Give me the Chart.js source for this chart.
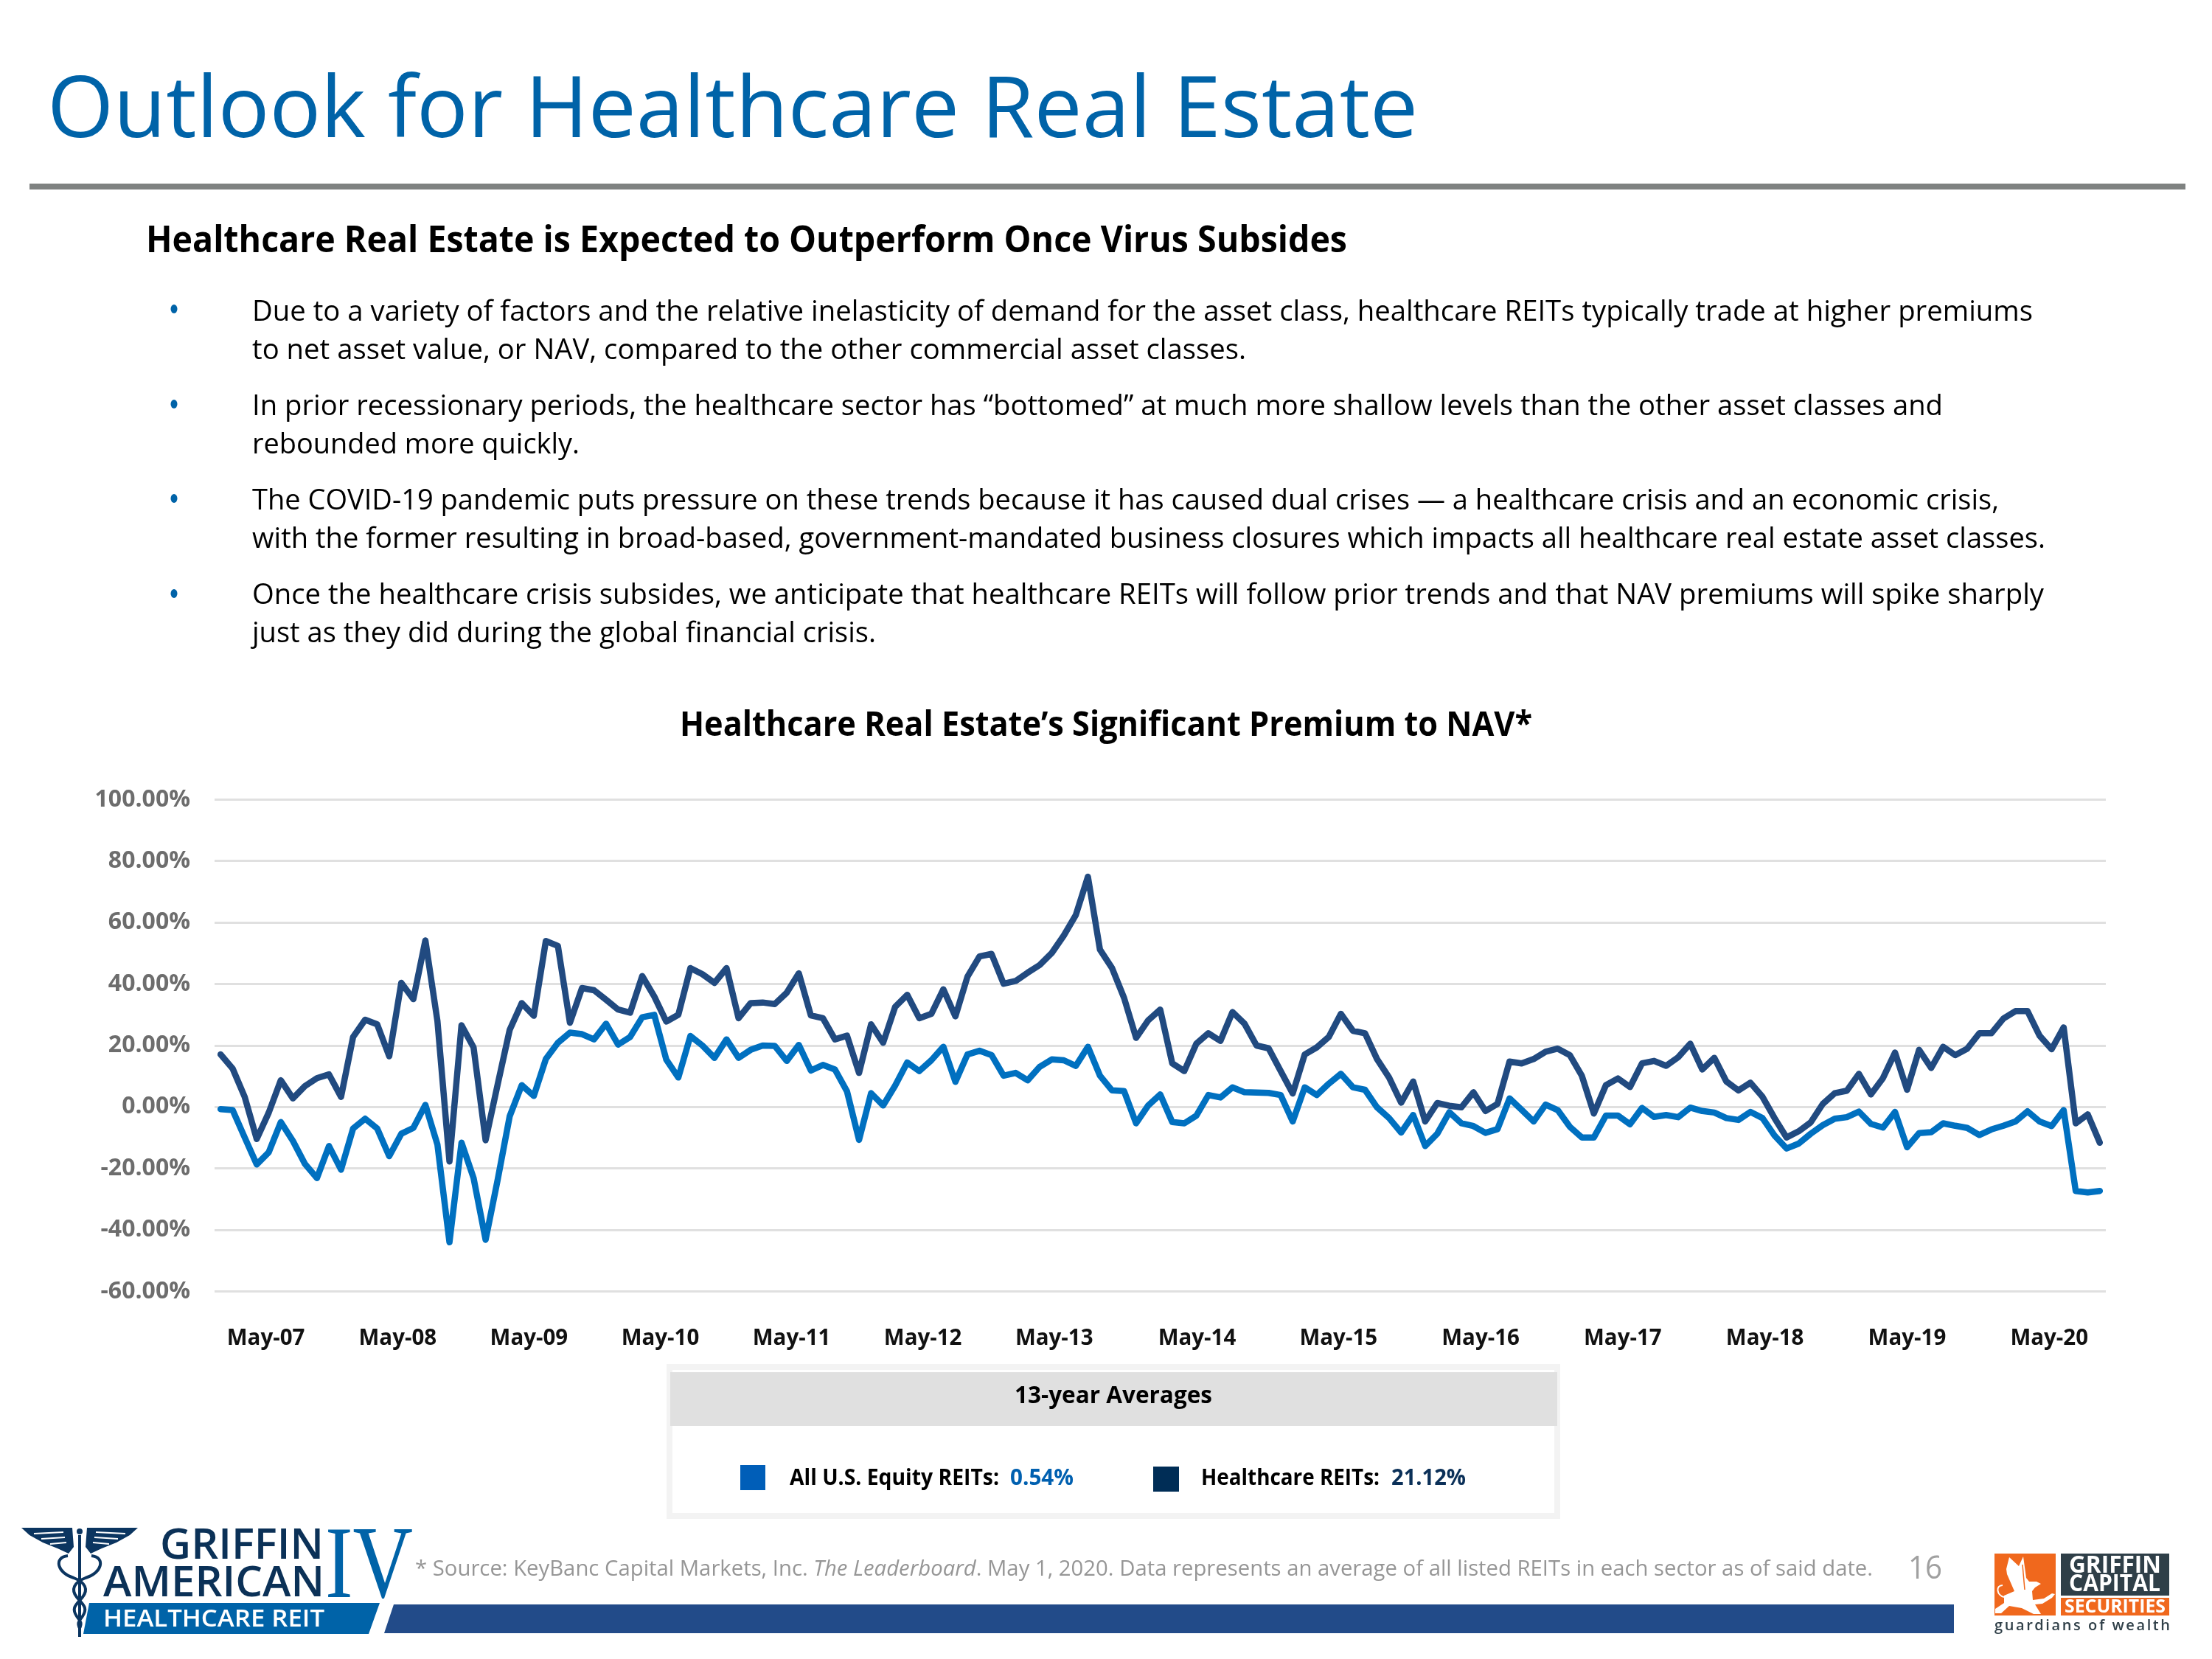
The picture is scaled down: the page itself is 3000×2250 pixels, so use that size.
<!DOCTYPE html>
<html>
<head>
<meta charset="utf-8">
<title>Outlook for Healthcare Real Estate</title>
<script src="https://cdn.jsdelivr.net/npm/chart.js@4"></script>
<style>
    html, body { margin: 0; padding: 0; background: #fff; }
    #page { position: relative; width: 3000px; height: 2250px; overflow: hidden; background: #fff; }
    #premiumChart { position: absolute; left: 0; top: 1040px; }
    #overlay { position: absolute; left: 0; top: 0; pointer-events: none; font-family: "Open Sans", sans-serif; }
</style>
</head>
<body>
<div id="page">
    <canvas id="premiumChart" width="3000" height="800"></canvas>
    <svg id="overlay" width="3000" height="2250" xmlns="http://www.w3.org/2000/svg">
        <!-- header -->
        <text x="64" y="186" font-size="116" fill="#0063a8" textLength="1859" lengthAdjust="spacingAndGlyphs">Outlook for Healthcare Real Estate</text>
        <rect x="40" y="249" width="2924" height="8" fill="#7f8281"/>
        <text x="198" y="342" font-size="50" font-weight="700" fill="#000" textLength="1629" lengthAdjust="spacingAndGlyphs">Healthcare Real Estate is Expected to Outperform Once Virus Subsides</text>

        <!-- bullets -->
        <g fill="#0063a8">
            <ellipse cx="236" cy="419" rx="4.5" ry="6"/>
            <ellipse cx="236" cy="548" rx="4.5" ry="6"/>
            <ellipse cx="236" cy="676" rx="4.5" ry="6"/>
            <ellipse cx="236" cy="805" rx="4.5" ry="6"/>
        </g>
        <g font-size="38" fill="#000">
            <text x="342" y="435" textLength="2415" lengthAdjust="spacingAndGlyphs">Due to a variety of factors and the relative inelasticity of demand for the asset class, healthcare REITs typically trade at higher premiums</text>
            <text x="342" y="487" textLength="1348" lengthAdjust="spacingAndGlyphs">to net asset value, or NAV, compared to the other commercial asset classes.</text>
            <text x="342" y="563" textLength="2293" lengthAdjust="spacingAndGlyphs">In prior recessionary periods, the healthcare sector has “bottomed” at much more shallow levels than the other asset classes and</text>
            <text x="342" y="615" textLength="444" lengthAdjust="spacingAndGlyphs">rebounded more quickly.</text>
            <text x="342" y="691" textLength="2369" lengthAdjust="spacingAndGlyphs">The COVID-19 pandemic puts pressure on these trends because it has caused dual crises — a healthcare crisis and an economic crisis,</text>
            <text x="342" y="743" textLength="2432" lengthAdjust="spacingAndGlyphs">with the former resulting in broad-based, government-mandated business closures which impacts all healthcare real estate asset classes.</text>
            <text x="342" y="819" textLength="2430" lengthAdjust="spacingAndGlyphs">Once the healthcare crisis subsides, we anticipate that healthcare REITs will follow prior trends and that NAV premiums will spike sharply</text>
            <text x="342" y="871" textLength="846" lengthAdjust="spacingAndGlyphs">just as they did during the global financial crisis.</text>
        </g>

        <!-- chart title -->
        <text x="922" y="998" font-size="46" font-weight="700" fill="#000" textLength="1156" lengthAdjust="spacingAndGlyphs">Healthcare Real Estate’s Significant Premium to NAV*</text>

        <!-- averages box -->
        <rect x="908" y="1854" width="1204" height="202" fill="#fff" stroke="#f3f3f3" stroke-width="8"/>
        <rect x="909" y="1861" width="1203" height="73" fill="#e0e0e0"/>
        <text x="1376" y="1903" font-size="33" font-weight="700" fill="#000" textLength="268" lengthAdjust="spacingAndGlyphs">13-year Averages</text>
        <rect x="1004" y="1987" width="34" height="34" fill="#005eb8"/>
        <text x="1071" y="2014" font-size="30" font-weight="700" fill="#000" textLength="284" lengthAdjust="spacingAndGlyphs">All U.S. Equity REITs:</text>
        <text x="1370" y="2014" font-size="30" font-weight="700" fill="#0060b0" textLength="86" lengthAdjust="spacingAndGlyphs">0.54%</text>
        <rect x="1564" y="1989" width="35" height="34" fill="#002d56"/>
        <text x="1629" y="2014" font-size="30" font-weight="700" fill="#000" textLength="242" lengthAdjust="spacingAndGlyphs">Healthcare REITs:</text>
        <text x="1887" y="2014" font-size="30" font-weight="700" fill="#0b3058" textLength="101" lengthAdjust="spacingAndGlyphs">21.12%</text>

        <!-- footer -->
        <text x="563" y="2137" font-size="29" fill="#969696" textLength="1977" lengthAdjust="spacingAndGlyphs">* Source: KeyBanc Capital Markets, Inc. <tspan font-style="italic">The Leaderboard</tspan>. May 1, 2020. Data represents an average of all listed REITs in each sector as of said date.</text>
        <text x="2588" y="2141" font-size="44" fill="#a0a0a0" textLength="46" lengthAdjust="spacingAndGlyphs">16</text>
        <polygon points="534,2176 2650,2176 2650,2215 521,2215" fill="#224b89"/>

        <!-- Griffin American logo -->
        <g fill="#0b3560">
            <polygon points="29,2072 98,2072 100,2098 93,2107 78,2100 58,2092 40,2082"/>
            <polygon points="187,2072 118,2072 116,2098 123,2107 138,2100 158,2092 176,2082"/>
            <rect x="106" y="2082" width="4" height="138"/>
            <circle cx="108" cy="2077" r="4"/>
        </g>
        <g stroke="#fff" stroke-width="2" fill="none">
            <path d="M46,2080 L86,2078 M56,2087 L88,2085 M68,2094 L90,2092"/>
            <path d="M170,2080 L130,2078 M160,2087 L128,2085 M148,2094 L126,2092"/>
        </g>
        <g stroke="#0b3560" stroke-width="4" fill="none">
            <path d="M92,2110 C72,2112 78,2134 100,2140 C116,2146 120,2156 112,2166 C104,2176 96,2180 104,2192 C108,2198 112,2200 108,2208"/>
            <path d="M124,2110 C144,2112 138,2134 116,2140 C100,2146 96,2156 104,2166 C112,2176 120,2180 112,2192 C108,2198 104,2200 108,2208"/>
        </g>
        <text x="217" y="2114" font-size="57" font-weight="600" fill="#0b3157" textLength="222" lengthAdjust="spacingAndGlyphs">GRIFFIN</text>
        <text x="140" y="2165" font-size="57" font-weight="600" fill="#0b3157" textLength="300" lengthAdjust="spacingAndGlyphs">AMERICAN</text>
        <text x="441" y="2166" font-family="Liberation Serif" font-size="140" fill="#0063a8" textLength="119" lengthAdjust="spacingAndGlyphs">IV</text>
        <polygon points="121,2174 515,2174 500,2216 113,2216" fill="#0063a8"/>
        <text x="140" y="2206" font-size="32" font-weight="600" fill="#fff" textLength="300" lengthAdjust="spacingAndGlyphs">HEALTHCARE  REIT</text>

        <!-- Griffin Capital Securities logo -->
        <rect x="2705" y="2107" width="83" height="84" fill="#f0681d"/>
        <polygon fill="#fff" points="2725,2112 2738,2124 2744,2111 2748,2140 2752,2145 2762,2145 2768,2148 2760,2153 2756,2158 2757,2170 2772,2168 2783,2161 2787,2162 2783,2167 2770,2175 2760,2176 2768,2189 2758,2189 2742,2181 2725,2178 2714,2188 2706,2188 2706,2182 2718,2174 2718,2164 2732,2158 2722,2135 2721,2128"/>
        <path d="M2743,2122 L2746,2156" stroke="#f0681d" stroke-width="1.5" fill="none"/>
        <path d="M2718,2166 C2708,2164 2706,2150 2716,2150" stroke="#fff" stroke-width="2" fill="none"/>
        <rect x="2795" y="2107" width="147" height="57" fill="#2f3f48"/>
        <rect x="2795" y="2167" width="147" height="24" fill="#f0681d"/>
        <text x="2806" y="2133" font-size="32" font-weight="700" fill="#fff" textLength="125" lengthAdjust="spacingAndGlyphs">GRIFFIN</text>
        <text x="2806" y="2158" font-size="32" font-weight="700" fill="#fff" textLength="124" lengthAdjust="spacingAndGlyphs">CAPITAL</text>
        <text x="2800" y="2187" font-size="25" font-weight="700" fill="#fff" textLength="137" lengthAdjust="spacingAndGlyphs">SECURITIES</text>
        <text x="2705" y="2211" font-size="20" font-weight="600" fill="#2f3f48" textLength="238" lengthAdjust="spacing">guardians of wealth</text>
    </svg>
</div>
<script>
// Premium to NAV in %, monthly May-07 to May-20
var healthcareReits = [
    17.1, 12.5, 3.3, -10.4, -1.8, 8.7, 2.8, 6.8, 9.4, 10.6, 3.3, 22.8, 28.4,
    26.9, 16.5, 40.4, 35.1, 54.2, 28, -17.7, 26.6, 19.4, -10.8, 7.3, 25.1,
    33.8, 29.7, 54, 52.4, 27.4, 38.7, 38, 34.9, 31.7, 30.7, 42.6, 36, 27.8,
    30, 45.2, 43.2, 40.4, 45.2, 28.9, 33.8, 34, 33.5, 37.2, 43.5, 29.8, 28.9,
    22, 23.2, 11.1, 26.9, 20.9, 32.6, 36.5, 28.9, 30.3, 38.3, 29.5, 42.4, 49,
    49.8, 40.1, 41, 43.7, 46.2, 50.1, 55.8, 62.5, 74.9, 51.2, 45.2, 35.5,
    22.5, 28.2, 31.7, 14.2, 11.7, 20.6, 24, 21.5, 30.9, 27.1, 20, 19.1, 11.7,
    4.4, 17.1, 19.4, 22.8, 30.3, 24.8, 24, 15.6, 9.6, 1.4, 8.3, -4.7, 1.3,
    0.4, -0.1, 4.8, -1.3, 1, 14.8, 14.2, 15.6, 18, 19, 16.9, 10.2, -2.1, 7.1,
    9.3, 6.5, 14.2, 15, 13.4, 16.2, 20.6, 12.2, 16, 8.3, 5.4, 7.9, 3.3, -3.6,
    -9.9, -7.9, -5, 1, 4.5, 5.3, 10.8, 4.1, 9.4, 17.7, 5.6, 18.6, 12.7, 19.6,
    16.9, 19, 24, 24, 28.8, 31.2, 31.2, 23.2, 18.8, 25.9, -5.3, -2.4, -11.6
];
var allEquityReits = [
    -0.7, -1, -9.9, -18.7, -14.7, -4.9, -11, -18.5, -23.1, -12.7, -20.4, -7,
    -3.8, -7, -16, -8.7, -6.8, 0.7, -12.2, -44, -11.6, -23.1, -43.2, -23.7,
    -3, 7.1, 3.6, 15.6, 20.9, 24.2, 23.7, 22, 27.1, 20.3, 22.8, 29.2, 30,
    15.4, 9.6, 23.1, 20, 16, 22, 16, 18.6, 20, 19.9, 15, 20.2, 11.9, 13.7,
    12.2, 5.1, -10.7, 4.5, 0.5, 7, 14.5, 11.7, 15.2, 19.6, 8.2, 17.1, 18.3,
    16.9, 10.2, 11.1, 8.7, 13.1, 15.5, 15.2, 13.4, 19.6, 10.2, 5.4, 5.2,
    -5.3, 0.5, 4.1, -4.9, -5.3, -2.8, 3.9, 3.1, 6.4, 4.8, 4.7, 4.6, 3.9,
    -4.7, 6.4, 3.9, 7.6, 10.8, 6.4, 5.6, -0.1, -3.6, -8.3, -2.6, -12.7, -8.7,
    -1.7, -5.3, -6.2, -8.4, -7.2, 2.8, -0.9, -4.7, 0.8, -1, -6.4, -9.9, -9.9,
    -2.8, -2.8, -5.6, -0.3, -3.2, -2.6, -3.3, -0.2, -1.3, -1.8, -3.6, -4.2,
    -1.6, -3.6, -9.3, -13.5, -11.9, -8.7, -5.9, -3.8, -3.3, -1.5, -5.5, -6.7,
    -1.6, -13.1, -8.5, -8.2, -5.3, -6.1, -6.8, -9.1, -7.3, -6.1, -4.7, -1.4,
    -4.7, -6.2, -1, -27.3, -27.8, -27.3
];

var xTickLabels = ['May-07', 'May-08', 'May-09', 'May-10', 'May-11', 'May-12', 'May-13', 'May-14', 'May-15', 'May-16', 'May-17', 'May-18', 'May-19', 'May-20'];
// where the labels sit along the months, the reference spaces them unevenly
var xTickMonths = [3.76, 14.7, 25.6, 36.5, 47.4, 58.3, 69.2, 81.06, 92.8, 104.6, 116.4, 128.2, 140, 151.8];

function toPoints(values) {
    return values.map(function (v, i) { return { x: i, y: v }; });
}

var premiumCtx = document.getElementById('premiumChart').getContext('2d');

var premiumChart = new Chart(premiumCtx, {
    type: 'line',
    data: {
        datasets: [{
            label: 'Healthcare REITs',
            data: toPoints(healthcareReits),
            borderColor: '#214a80'
        }, {
            label: 'All U.S. Equity REITs',
            data: toPoints(allEquityReits),
            borderColor: '#0070c0'
        }]
    },
    options: {
        responsive: false,
        animation: false,
        layout: { padding: { top: 44.5, right: 144 } },
        elements: {
            point: { radius: 0 },
            line: { borderWidth: 8.5, tension: 0, borderCapStyle: 'round', borderJoinStyle: 'round' }
        },
        plugins: {
            legend: { display: false },
            title: { display: false },
            tooltip: { enabled: false }
        },
        scales: {
            x: {
                type: 'linear',
                min: -0.5,
                max: 156.5,
                grid: { display: false },
                border: { display: false },
                afterBuildTicks: function (scale) {
                    scale.ticks = xTickMonths.map(function (m) { return { value: m }; });
                },
                afterFit: function (scale) {
                    scale.height = 88.5;
                    scale.paddingLeft = 0;
                    scale.paddingRight = 0;
                },
                ticks: {
                    autoSkip: false,
                    maxRotation: 0,
                    padding: 38,
                    color: '#111',
                    font: { family: '"Open Sans"', size: 29.5, weight: '700' },
                    callback: function (value, index) { return xTickLabels[index]; }
                }
            },
            y: {
                min: -60,
                max: 100,
                afterFit: function (scale) {
                    scale.width = 291;
                    scale.paddingTop = 0;
                    scale.paddingBottom = 0;
                },
                border: { display: false },
                grid: { color: '#e0e0e0', lineWidth: 3, drawTicks: false },
                ticks: {
                    stepSize: 20,
                    padding: 33,
                    color: '#6d6d6d',
                    font: { family: '"Open Sans"', size: 32, weight: '700' },
                    callback: function (value) { return value.toFixed(2) + '%'; }
                }
            }
        }
    }
});
</script>
</body>
</html>
